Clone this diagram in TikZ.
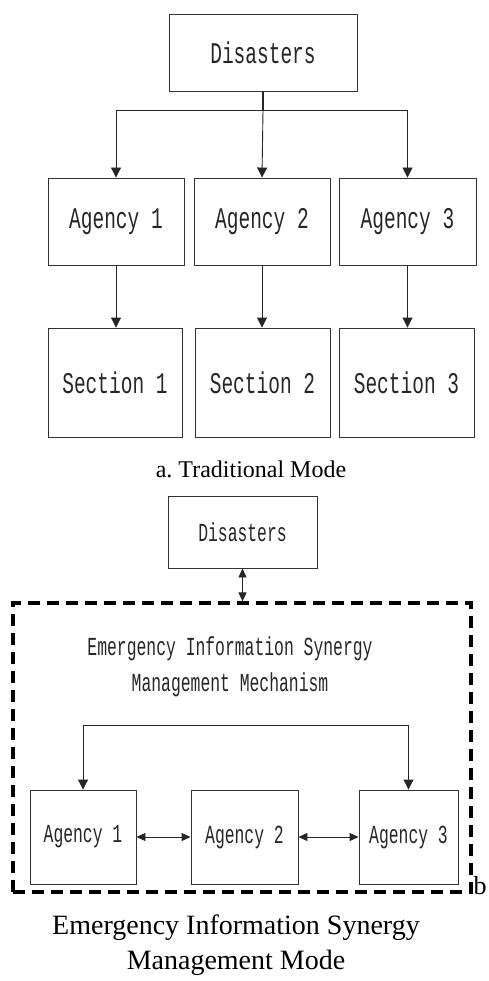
\documentclass[tikz,border=0pt]{standalone}
\usepackage{fontspec}
\setmainfont{Liberation Serif}
\newfontfamily\boxfont[FakeStretch=0.65]{Liberation Mono}
\newfontfamily\boxfontb[FakeStretch=0.63]{Liberation Mono}
\usetikzlibrary{arrows.meta}
\tikzset{
  box/.style={draw=black!80, line width=0.9pt, inner sep=0pt, align=center, text=black!85},
  bigtxt/.style={font=\boxfont\fontsize{30}{34}\selectfont},
  smalltxt/.style={font=\boxfontb\fontsize{26}{36}\selectfont},
  conn/.style={draw=black!85, line width=0.9pt},
  arr/.style={conn, -{Triangle[length=10pt,width=10pt]}},
  darr/.style={conn, {Triangle[length=9pt,width=8pt]}-{Triangle[length=9pt,width=8pt]}},
  captxt/.style={font=\fontsize{24}{28}\selectfont, inner sep=0pt},
}
\begin{document}
\begin{tikzpicture}[x=1pt,y=-1pt]
\useasboundingbox (0,0) rectangle (488,981);
% ---- a. Traditional mode
\node[box,bigtxt,minimum width=188pt,minimum height=77pt] (dis) at (263,52.5) {Disasters};
\node[box,bigtxt,minimum width=136pt,minimum height=87pt] (a1t) at (116,221.5) {Agency 1};
\node[box,bigtxt,minimum width=136pt,minimum height=87pt] (a2t) at (262,221.5) {Agency 2};
\node[box,bigtxt,minimum width=137pt,minimum height=87pt] (a3t) at (407.5,221.5) {Agency 3};
\node[box,bigtxt,minimum width=134pt,minimum height=109pt] (s1) at (115,382.5) {Section 1};
\node[box,bigtxt,minimum width=135pt,minimum height=109pt] (s2) at (262.5,382.5) {Section 2};
\node[box,bigtxt,minimum width=135pt,minimum height=109pt] (s3) at (406.5,382.5) {Section 3};
\coordinate (j) at (263,110);
\coordinate (j1) at (116,110);
\coordinate (j3) at (407.5,110);
\draw[conn,line width=1.6pt] (dis.south) -- (j);
\draw[conn] (j1) -- (j3);
\draw[arr] (j1) -- (a1t.north);
\draw[arr] (j) -- (a2t.north);
\draw[arr] (j3) -- (a3t.north);
\draw[arr] (a1t.south) -- (a1t.south |- s1.north);
\draw[arr] (a2t.south) -- (a2t.south |- s2.north);
\draw[arr] (a3t.south) -- (a3t.south |- s3.north);
\node[captxt] (capa) at (251,469) {a.\ Traditional Mode};
% ---- b. Synergy mode
\node[box,smalltxt,minimum width=149pt,minimum height=72pt] (disb) at (242.5,532) {Disasters};
\node[draw=black, line width=3.2pt, dash pattern=on 12pt off 7pt, inner sep=0pt,
      minimum width=458pt, minimum height=289pt] (mech) at (242,747.5) {};
\node[smalltxt,align=center,inner sep=0pt,text=black!85] (mtxt) at (230,667) {Emergency Information Synergy\\Management Mechanism};
\node[box,smalltxt,minimum width=106pt,minimum height=94pt] (a1b) at (83,837) {Agency 1};
\node[box,smalltxt,minimum width=107pt,minimum height=94pt] (a2b) at (244.5,837) {Agency 2};
\node[box,smalltxt,minimum width=99pt,minimum height=94pt] (a3b) at (408.5,837) {Agency 3};
\coordinate (k1) at (83,725);
\coordinate (k3) at (408.5,725);
\draw[conn] (k1) -- (k3);
\draw[arr] (k1) -- (a1b.north);
\draw[arr] (k3) -- (a3b.north);
\draw[darr] (disb.south) -- (disb.south |- mech.north);
\draw[darr] (a1b.east) -- (a2b.west);
\draw[darr] (a2b.east) -- (a3b.west);
\node[font=\fontsize{26}{30}\selectfont, inner sep=0pt, anchor=base west] (blab) at (473.5,894) {b};
\node[font=\fontsize{28}{35}\selectfont, inner sep=0pt, align=center] (capb) at (236,945.5) {Emergency Information Synergy\\Management Mode};
\end{tikzpicture}
\end{document}
